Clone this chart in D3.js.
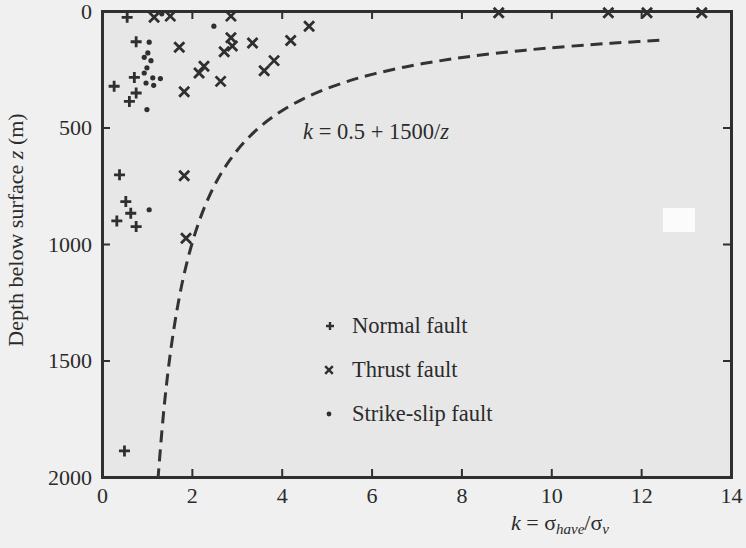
<!DOCTYPE html>
<html>
<head>
<meta charset="utf-8">
<script src="https://cdn.jsdelivr.net/npm/d3@7"></script>
<style>
  html, body { margin: 0; padding: 0; background: #f0f0f0; }
  svg { display: block; }
</style>
</head>
<body>
<svg id="chart" width="746" height="548"></svg>
<script>
// Horizontal stress ratio k against depth z for different fault regimes
const normalK = [0.56, 0.76, 0.72, 0.27, 0.76, 0.61, 0.39, 0.53, 0.64, 0.33, 0.76, 0.50];
const normalZ = [27, 132, 285, 323, 352, 388, 703, 818, 868, 901, 925, 1888];

const thrustK = [1.16, 1.52, 1.72, 1.83, 2.87, 2.87, 2.90, 2.72, 3.35, 4.20, 4.61,
                 2.27, 2.16, 2.64, 3.83, 3.61, 8.83, 11.27, 12.13, 13.35, 1.83, 1.87];
const thrustZ = [27, 22, 156, 347, 22, 115, 150, 175, 137, 127, 65,
                 237, 266, 302, 213, 256, 8, 8, 8, 8, 707, 975];

const strikeK = [1.33, 2.49, 1.05, 1.02, 0.94, 1.09, 1.00, 0.94, 1.13, 1.30, 0.98, 1.15, 1.00, 1.05];
const strikeZ = [12, 65, 134, 180, 199, 213, 244, 266, 287, 290, 309, 319, 423, 853];

const xTicks = [0, 2, 4, 6, 8, 10, 12, 14];
const yTicks = [0, 500, 1000, 1500, 2000];

// Upper-bound curve k = 0.5 + 1500/z, sampled at these depths
const curveDepths = [126, 135, 145, 160, 175, 195, 215, 240, 270, 300, 340, 380, 430,
                     490, 560, 640, 730, 830, 950, 1100, 1250, 1450, 1700, 2000];
const curveK = z => 0.5 + 1500 / z;

const FONT = "'Liberation Serif', 'Times New Roman', serif";
const svg = d3.select("#chart");
const ink = "#2f2f2f";
const textInk = "#2b2b2b";

const x = d3.scaleLinear().domain([0, 14]).range([102, 731]);
const y = d3.scaleLinear().domain([0, 2000]).range([11, 477]);

// plot panel
svg.append("rect")
  .attr("x", x(0)).attr("y", y(0))
  .attr("width", x(14) - x(0)).attr("height", y(2000) - y(0))
  .attr("fill", "#e7e7e7");

// light patch inside the panel
svg.append("rect")
  .attr("x", 663).attr("y", 208).attr("width", 32).attr("height", 24)
  .attr("fill", "#fbfbfb");

// axes with inward ticks on all four sides
const tickLen = 8;
const axB = svg.append("g").attr("transform", `translate(0,${y(2000)})`)
  .call(d3.axisBottom(x).tickValues(xTicks).tickSize(-tickLen).tickPadding(tickLen + 2).tickFormat(d3.format("d")));
const axT = svg.append("g").attr("transform", `translate(0,${y(0)})`)
  .call(d3.axisTop(x).tickValues(xTicks).tickSize(-tickLen).tickFormat(""));
const axL = svg.append("g").attr("transform", `translate(${x(0)},0)`)
  .call(d3.axisLeft(y).tickValues(yTicks).tickSize(-tickLen).tickPadding(tickLen + 2).tickFormat(d3.format("d")));
const axR = svg.append("g").attr("transform", `translate(${x(14)},0)`)
  .call(d3.axisRight(y).tickValues(yTicks).tickSize(-tickLen).tickFormat(""));

[axB, axT, axL, axR].forEach(g => {
  g.attr("font-family", null).attr("font-size", null);
  g.select(".domain").attr("stroke", ink).attr("stroke-width", 3);
  g.selectAll(".tick line").attr("stroke", ink).attr("stroke-width", 2);
  g.selectAll(".tick text").attr("fill", textInk)
    .style("font-family", FONT).style("font-size", "22px");
});
axB.selectAll(".tick text").attr("dy", "0.71em");

// dashed curve
const line = d3.line().x(d => x(curveK(d))).y(d => y(d)).curve(d3.curveCatmullRom);
svg.append("path")
  .datum(curveDepths)
  .attr("d", line)
  .attr("fill", "none")
  .attr("stroke", "#333")
  .attr("stroke-width", 3)
  .attr("stroke-dasharray", "12,7");

// markers
function plusPath(s) { return `M${-s},0H${s}M0,${-s}V${s}`; }
function crossPath(s) { return `M${-s},${-s}L${s},${s}M${-s},${s}L${s},${-s}`; }

svg.append("g").selectAll("path")
  .data(d3.zip(normalK, normalZ)).join("path")
  .attr("transform", d => `translate(${x(d[0])},${y(d[1])})`)
  .attr("d", plusPath(5.5))
  .attr("stroke", ink).attr("stroke-width", 2.8).attr("fill", "none");

svg.append("g").selectAll("path")
  .data(d3.zip(thrustK, thrustZ)).join("path")
  .attr("transform", d => `translate(${x(d[0])},${y(d[1])})`)
  .attr("d", crossPath(5))
  .attr("stroke", ink).attr("stroke-width", 2.8).attr("fill", "none");

svg.append("g").selectAll("circle")
  .data(d3.zip(strikeK, strikeZ)).join("circle")
  .attr("cx", d => x(d[0])).attr("cy", d => y(d[1]))
  .attr("r", 2.6).attr("fill", ink);

function addText(px, py, size) {
  return svg.append("text").attr("x", px).attr("y", py)
    .style("font-family", FONT).style("font-size", size + "px").attr("fill", textInk);
}

// curve annotation
const ann = addText(303, 139, 22.5);
ann.append("tspan").style("font-style", "italic").text("k");
ann.append("tspan").text(" = 0.5 + 1500/");
ann.append("tspan").style("font-style", "italic").text("z");

// legend
const legend = [
  { label: "Normal fault", mark: "plus", yy: 326 },
  { label: "Thrust fault", mark: "cross", yy: 370 },
  { label: "Strike-slip fault", mark: "dot", yy: 414 }
];
legend.forEach(l => {
  if (l.mark === "plus") {
    svg.append("path").attr("transform", `translate(330,${l.yy})`).attr("d", plusPath(4))
      .attr("stroke", ink).attr("stroke-width", 2.4).attr("fill", "none");
  } else if (l.mark === "cross") {
    svg.append("path").attr("transform", `translate(329,${l.yy})`).attr("d", crossPath(3.8))
      .attr("stroke", ink).attr("stroke-width", 2.4).attr("fill", "none");
  } else {
    svg.append("circle").attr("cx", 329).attr("cy", l.yy).attr("r", 2.4).attr("fill", ink);
  }
  addText(352, l.yy + 7, 22.5).text(l.label);
});

// axis titles
const xt = addText(560, 530, 22).attr("text-anchor", "middle");
xt.append("tspan").style("font-style", "italic").text("k");
xt.append("tspan").text(" = σ");
xt.append("tspan").style("font-style", "italic").style("font-size", "15px").attr("dy", 4).text("have");
xt.append("tspan").attr("dy", -4).text("/σ");
xt.append("tspan").style("font-style", "italic").style("font-size", "15px").attr("dy", 4).text("v");

const yt = svg.append("text").attr("transform", "translate(23,230) rotate(-90)")
  .attr("text-anchor", "middle").style("font-family", FONT).style("font-size", "22px").attr("fill", textInk);
yt.append("tspan").text("Depth below surface ");
yt.append("tspan").style("font-style", "italic").text("z");
yt.append("tspan").text(" (m)");
</script>
</body>
</html>
